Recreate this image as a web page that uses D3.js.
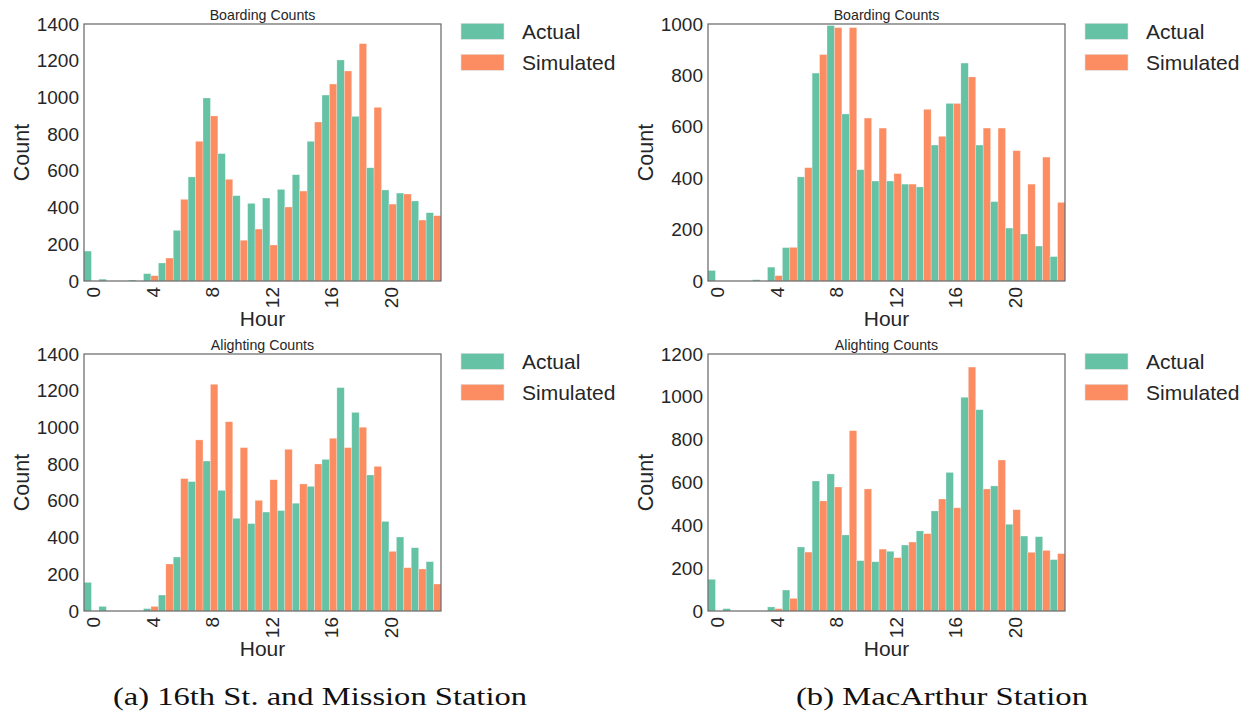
<!DOCTYPE html>
<html>
<head>
<meta charset="utf-8">
<script src="https://cdn.jsdelivr.net/npm/d3@7/dist/d3.min.js"></script>
<style>
  body { margin: 0; background: #fff; }
  text { font-family: "Liberation Sans", Arial, sans-serif; fill: #262626; }
</style>
</head>
<body>
<svg id="fig" width="1252" height="719"></svg>
<script>
// hours of the day (one bin each)
var hours = [0,1,2,3,4,5,6,7,8,9,10,11,12,13,14,15,16,17,18,19,20,21,22,23];
var hourTicks = [0,4,8,12,16,20];
var seriesNames = ["Actual", "Simulated"];

// 16th St. and Mission
var missionBoardActual = [163,10,0,5,40,98,276,567,997,694,465,423,452,499,579,761,1013,1204,897,617,496,479,436,372];
var missionBoardSim    = [0,0,0,0,29,125,445,761,899,554,222,283,196,403,490,866,1073,1144,1293,946,419,474,332,356];
var missionAlightActual = [156,25,0,0,13,87,294,705,817,657,505,476,539,547,587,679,826,1217,1082,741,488,403,345,269];
var missionAlightSim    = [0,0,0,0,25,256,721,932,1235,1031,890,603,715,881,692,801,941,890,1001,788,325,236,229,147];

// MacArthur
var macBoardActual = [41,0,0,5,54,130,405,809,994,650,433,389,389,377,366,529,691,848,529,309,206,183,136,95];
var macBoardSim    = [0,0,0,0,21,131,441,881,986,986,634,595,418,377,668,563,691,794,595,595,507,377,482,306];
var macAlightActual = [148,11,0,0,19,98,299,607,640,355,235,230,279,308,374,467,647,998,940,584,405,350,347,240];
var macAlightSim    = [0,0,0,0,11,59,275,514,579,842,570,289,249,322,361,523,482,1139,570,705,473,274,283,268];

var yTicks1400 = [0,200,400,600,800,1000,1200,1400];
var yTicks1000 = [0,200,400,600,800,1000];
var yTicks1200 = [0,200,400,600,800,1000,1200];

var captions = ["(a) 16th St. and Mission Station", "(b) MacArthur Station"];

var colors = {"Actual": "#66c2a5", "Simulated": "#fc8d62"};

var svg = d3.select("#fig");

// panel layout
var panels = [
  {left: 84,  top: 24,  title: "Boarding Counts",  actual: missionBoardActual,  sim: missionBoardSim,  yMax: 1400, ticks: yTicks1400},
  {left: 708, top: 24,  title: "Boarding Counts",  actual: macBoardActual,      sim: macBoardSim,      yMax: 1000, ticks: yTicks1000},
  {left: 84,  top: 354, title: "Alighting Counts", actual: missionAlightActual, sim: missionAlightSim, yMax: 1400, ticks: yTicks1400},
  {left: 708, top: 354, title: "Alighting Counts", actual: macAlightActual,     sim: macAlightSim,     yMax: 1200, ticks: yTicks1200}
];
var W = 357, H = 257;

panels.forEach(function (p) {
  var g = svg.append("g").attr("transform", "translate(" + p.left + "," + p.top + ")");

  var x = d3.scaleBand().domain(hours).range([0, W]).padding(0);
  var xInner = d3.scaleBand().domain(seriesNames).range([0, x.bandwidth()]);
  var y = d3.scaleLinear().domain([0, p.yMax]).range([H, 0]);

  var rows = hours.map(function (h, i) {
    return {hour: h, Actual: p.actual[i], Simulated: p.sim[i]};
  });

  var groups = g.selectAll("g.hour").data(rows).enter().append("g")
      .attr("class", "hour")
      .attr("transform", function (d) { return "translate(" + x(d.hour) + ",0)"; });

  groups.selectAll("rect")
      .data(function (d) { return seriesNames.map(function (s) { return {key: s, value: d[s]}; }); })
      .enter().append("rect")
      .attr("x", function (d) { return xInner(d.key); })
      .attr("y", function (d) { return y(d.value); })
      .attr("width", xInner.bandwidth())
      .attr("height", function (d) { return H - y(d.value); })
      .attr("fill", function (d) { return colors[d.key]; })
      .attr("stroke", "#ffffff")
      .attr("stroke-opacity", 0.45)
      .attr("stroke-width", 0.6);

  // frame
  g.append("rect").attr("width", W).attr("height", H)
      .attr("fill", "none").attr("stroke", "#666").attr("stroke-width", 1.2);

  // y axis
  var ya = g.append("g").call(d3.axisLeft(y).tickValues(p.ticks).tickFormat(d3.format("d"))
      .tickSize(0).tickPadding(5));
  ya.select(".domain").remove();
  ya.selectAll("text").style("font-size", "19px").style("fill", "#262626")
      .style("font-family", "'Liberation Sans', Arial, sans-serif");

  // x axis, rotated labels
  var xa = g.append("g").attr("transform", "translate(0," + H + ")")
      .call(d3.axisBottom(x).tickValues(hourTicks).tickSize(0));
  xa.select(".domain").remove();
  xa.selectAll("text")
      .attr("transform", "rotate(-90)")
      .attr("x", -6).attr("y", 0).attr("dy", "0.45em")
      .attr("text-anchor", "end")
      .style("font-size", "19px").style("fill", "#262626")
      .style("font-family", "'Liberation Sans', Arial, sans-serif");

  // labels
  g.append("text").attr("x", W / 2).attr("y", H + 45).attr("text-anchor", "middle")
      .style("font-size", "21px").text("Hour");
  g.append("text").attr("transform", "translate(" + -55 + "," + (H / 2) + ") rotate(-90)")
      .attr("text-anchor", "middle").style("font-size", "21.5px").text("Count");
  g.append("text").attr("x", W / 2).attr("y", -4.5).attr("text-anchor", "middle")
      .style("font-size", "14.2px").text(p.title);

  // legend outside, right
  var lg = g.append("g").attr("transform", "translate(" + (W + 20) + ",0)");
  seriesNames.forEach(function (s, i) {
    lg.append("rect").attr("x", 0).attr("y", -0.7 + i * 31).attr("width", 43).attr("height", 16)
        .attr("fill", colors[s]).attr("stroke", "#e0e0e0").attr("stroke-width", 0.6);
    lg.append("text").attr("x", 61).attr("y", 15.3 + i * 31)
        .style("font-size", "21px").text(s);
  });
});

// captions
svg.append("text").attr("x", 320).attr("y", 705).attr("text-anchor", "middle")
    .attr("textLength", 414).attr("lengthAdjust", "spacingAndGlyphs")
    .style("font-family", "'Liberation Serif', 'DejaVu Serif', serif").style("font-size", "25px")
    .style("fill", "#111").text(captions[0]);
svg.append("text").attr("x", 942).attr("y", 705).attr("text-anchor", "middle")
    .attr("textLength", 292).attr("lengthAdjust", "spacingAndGlyphs")
    .style("font-family", "'Liberation Serif', 'DejaVu Serif', serif").style("font-size", "25px")
    .style("fill", "#111").text(captions[1]);
</script>
</body>
</html>
